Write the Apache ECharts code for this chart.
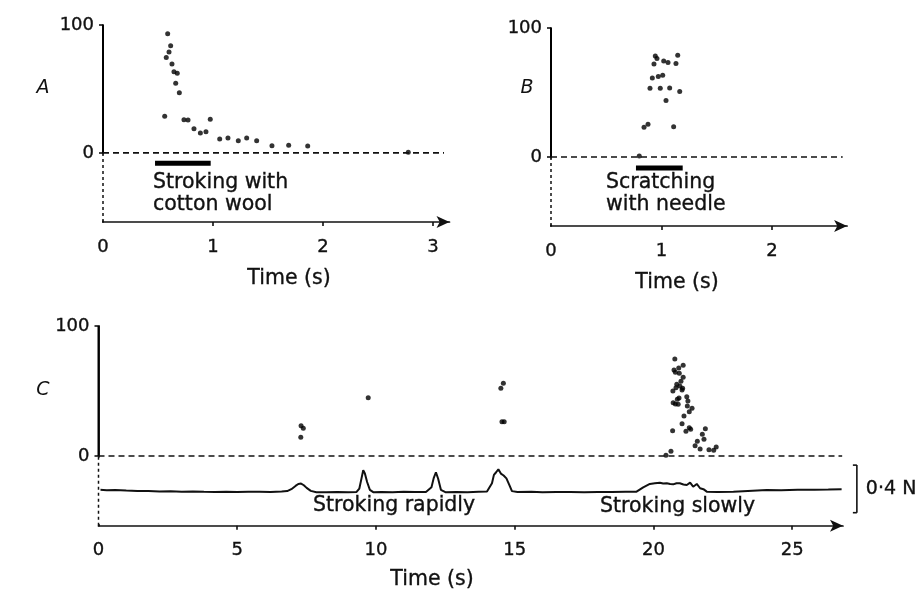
<!DOCTYPE html>
<html><head><meta charset="utf-8">
<script src="https://cdn.jsdelivr.net/npm/echarts@6/dist/echarts.min.js"></script>
<style>html,body{margin:0;padding:0;background:#fff}#c{width:918px;height:592px}</style>
</head><body><div id="c"></div>
<script>
// ---- Panel A: stroking with cotton wool (time s, impulses/s) ----
const aTime = [0.588,0.615,0.600,0.575,0.627,0.645,0.675,0.661,0.694,0.561,0.736,0.773,0.827,0.885,0.936,0.975,1.061,1.136,1.230,1.306,1.397,1.536,1.688,1.861,2.775];
const aRate = [93.2,83.8,78.9,74.5,69.5,63.5,62.3,54.4,47.1,28.7,26.0,25.8,18.8,15.6,16.6,26.3,10.9,11.7,9.6,11.7,9.6,5.7,6.0,5.5,0.5];
const aStim = [0.473, 0.979];
// ---- Panel B: scratching with needle ----
const bTime = [0.944,0.959,0.932,1.020,1.059,1.147,1.131,0.917,0.971,1.011,0.896,0.989,1.074,1.165,1.041,0.842,0.878,1.110,0.799];
const bRate = [78.3,76.3,72.2,74.5,73.2,78.9,72.5,61.3,62.4,63.4,53.4,53.4,53.6,50.8,43.9,23.2,25.5,23.4,0.8];
const bStim = [0.769, 1.192];
// ---- Panel C: stroking rapidly / slowly ----
const cTime = [7.30,7.38,7.29,9.72,14.59,14.50,14.54,14.62,
  20.77,20.74,20.91,21.07,20.79,20.93,21.07,20.99,20.84,20.95,20.81,21.05,20.70,21.03,20.92,21.20,20.86,20.71,20.79,20.89,21.24,21.39,21.22,21.29,21.10,21.03,20.69,21.29,21.34,21.17,21.87,21.76,21.82,21.58,21.50,21.68,22.00,22.17,22.26,20.63,20.45];
const cRate = [23.3,21.3,14.4,44.8,55.9,52.1,26.4,26.4,
  74.6,66.2,67.7,69.8,64.4,63.6,60.5,57.5,55.2,53.8,52.5,52.1,50.0,50.8,44.6,45.6,43.6,41.0,40.0,39.8,42.3,36.7,38.5,34.1,30.8,24.8,19.5,21.8,20.5,19.0,21.0,16.7,12.8,11.3,7.9,5.4,4.8,4.4,6.9,3.6,0.5];
// force trace (plotted in the rate-axis units below zero)
const forceTime = [0.05,0.3,0.6,1.0,1.4,1.8,2.2,2.6,3.0,3.4,3.8,4.2,4.6,5.0,5.4,5.8,6.2,6.6,6.8,6.95,7.1,7.2,7.3,7.4,7.5,7.65,7.85,8.2,8.6,9.0,9.3,9.4,9.48,9.54,9.6,9.68,9.78,9.9,10.2,10.6,11.0,11.4,11.8,12.0,12.08,12.16,12.24,12.34,12.5,12.9,13.3,13.7,14.0,14.18,14.25,14.33,14.41,14.5,14.6,14.7,14.8,14.9,15.1,15.6,16.0,16.5,17.0,17.5,18.0,18.5,19.0,19.39,19.63,19.87,20.05,20.23,20.35,20.48,20.6,20.71,20.83,20.95,21.08,21.2,21.32,21.43,21.56,21.68,21.8,21.92,22.3,22.88,23.4,24.08,24.6,25.2,25.8,26.3,26.78];
const forceVal = [-26.0,-26.3,-26.1,-26.6,-26.9,-27.0,-27.2,-27.1,-27.4,-27.3,-27.5,-27.6,-27.4,-27.7,-27.5,-27.4,-27.6,-27.3,-27.0,-25.5,-23.0,-21.5,-21.2,-22.5,-24.5,-26.8,-27.8,-27.9,-27.7,-27.9,-27.6,-25.0,-17.0,-11.0,-13.5,-20.0,-26.0,-27.8,-27.6,-27.8,-27.5,-27.7,-27.6,-24.0,-17.0,-12.5,-17.5,-26.0,-27.8,-27.6,-27.8,-27.5,-27.3,-21.0,-14.5,-12.5,-10.2,-13.5,-15.0,-17.2,-22.0,-27.0,-27.7,-27.5,-27.8,-27.6,-27.7,-27.9,-27.6,-27.7,-27.5,-27.4,-24.1,-21.5,-21.0,-20.5,-21.2,-21.0,-21.6,-21.8,-20.9,-21.0,-21.9,-22.3,-20.5,-23.6,-21.5,-24.8,-25.5,-27.4,-27.6,-27.4,-26.9,-26.2,-26.4,-26.0,-25.9,-25.8,-25.6];
// 0.4 N scale bar: x position and the two ends (in panel C units)
const scaleBarX = 27.33, scaleBarEnds = [-7, -43.6];
// axis ticks
const aTicks = [0,1,2,3], bTicks = [0,1,2], cTicks = [0,5,10,15,20,25], yTicks = [0,100];
const axMax = [3.15, 2.68, 26.83];
const yMin = [-54, -53.4, -53.6];
const zeroLineEnd = [3.1, 2.64, 26.8];

const INK = '#111';
const FONT = 'DejaVu Sans';
const zip = (xs, ys) => xs.map((x, i) => [x, ys[i]]);
const labelStyle = {color:INK, fontSize:18, fontFamily:FONT, textBorderColor:INK, textBorderWidth:0.35};

function xAxis(idx, max, ticks) {
  return {
    type:'value', gridIndex:idx, min:0, max:max,
    axisLine:{show:true, onZero:false, symbol:['none','arrow'], symbolSize:[9,13], lineStyle:{color:INK, width:1.7}},
    axisTick:{show:true, customValues:ticks.slice(1), length:4, lineStyle:{color:INK, width:1.6}},
    axisLabel:Object.assign({customValues:ticks, margin:16}, labelStyle),
    splitLine:{show:false}
  };
}
function yAxis(idx, min) {
  return {
    type:'value', gridIndex:idx, min:min, max:100,
    axisLine:{show:true, onZero:false, lineStyle:{color:INK, width:1.8}},
    axisTick:{show:true, customValues:yTicks, length:4, lineStyle:{color:INK, width:1.6}},
    axisLabel:Object.assign({customValues:yTicks, margin:9}, labelStyle),
    splitLine:{show:false}
  };
}
function dots(idx, data) {
  return {type:'scatter', xAxisIndex:idx, yAxisIndex:idx, data:data, symbol:'circle', symbolSize:5,
    itemStyle:{color:'#000'}, silent:true};
}
function stimBar(idx, ext, y) {
  return {type:'line', xAxisIndex:idx, yAxisIndex:idx, data:[[ext[0],y],[ext[1],y]], showSymbol:false,
    silent:true, lineStyle:{color:'#000', width:5, cap:'butt'}};
}
function txt(x, y, s, opt) {
  return {type:'text', x:x, y:y, z:100, style:Object.assign({text:s, fill:INK, font:'20.5px "DejaVu Sans"',
    stroke:INK, lineWidth:0.35, textAlign:'left', textVerticalAlign:'middle'}, opt||{})};
}

const chart = echarts.init(document.getElementById('c'), null, {renderer:'canvas'});
chart.setOption({
  backgroundColor:'#fff',
  animation:false,
  grid:[
    {left:103, top:25, width:346.5, height:197, containLabel:false, outerBoundsMode:'none'},
    {left:551, top:28, width:296.1, height:198, containLabel:false, outerBoundsMode:'none'},
    {left:98.5, top:326, width:744.5, height:199.7, containLabel:false, outerBoundsMode:'none'}
  ],
  xAxis:[xAxis(0, axMax[0], aTicks), xAxis(1, axMax[1], bTicks), xAxis(2, axMax[2], cTicks)],
  yAxis:[yAxis(0, yMin[0]), yAxis(1, yMin[1]), yAxis(2, yMin[2])],
  series:[
    dots(0, zip(aTime, aRate)),
    dots(1, zip(bTime, bRate)),
    dots(2, zip(cTime, cRate)),
    stimBar(0, aStim, -8),
    stimBar(1, bStim, -8.5),
    {type:'line', xAxisIndex:2, yAxisIndex:2, data:zip(forceTime, forceVal), showSymbol:false, silent:true,
     lineStyle:{color:INK, width:2}}
  ]
});

// axis decorations: the y axis is solid above 0 and dashed below; dashed zero line
const px = (g, p) => chart.convertToPixel({gridIndex:g}, p);
const seg = (a, b, w, dash) => ({type:'polyline', silent:true, z:100, zlevel:1,
  shape:{points:[[a[0], a[1]], [b[0], b[1]]]},
  style:{stroke:INK, lineWidth:w, lineDash:dash || null, fill:'none'}});
const gfx = [];
for (let g = 0; g < 3; g++) {
  const o = px(g, [0, 0]), top = px(g, [0, 100]), bot = px(g, [0, yMin[g]]);
  gfx.push({type:'rect', silent:true, z:100, zlevel:1,
    shape:{x:o[0] - 1, y:top[1], width:2, height:o[1] - top[1]}, style:{fill:'#000'}});
  // blank the solid axis line below zero, then redraw it dashed
  gfx.push({type:'rect', silent:true, z:99, zlevel:1,
    shape:{x:o[0] - 2, y:o[1] + 1.5, width:4, height:bot[1] - o[1] - 3}, style:{fill:'#fff'}});
  gfx.push(seg([bot[0], bot[1]], [o[0], o[1]], 1.5, [3,3]));
  gfx.push(seg(o, px(g,[zeroLineEnd[g],0]), 1.6, [6,4]));
}
const sTop = px(2, [scaleBarX, scaleBarEnds[0]]);
const sBot = px(2, [scaleBarX, scaleBarEnds[1]]);
gfx.push(seg([sTop[0]-4, sTop[1]], sTop, 1.6));
gfx.push(seg(sTop, sBot, 1.6));
gfx.push(seg([sBot[0]-4, sBot[1]], sBot, 1.6));
gfx.push(txt(sTop[0]+9, (sTop[1]+sBot[1])/2, '0·4 N', {font:'19px "DejaVu Sans"'}));
const panelLbl = {font:'italic 19px "DejaVu Sans"', textAlign:'center', lineWidth:0};
gfx.push(
  txt(43, 88, 'A', panelLbl),
  txt(527, 88, 'B', panelLbl),
  txt(43, 390, 'C', panelLbl),
  txt(153, 183, 'Stroking with'),
  txt(153, 205, 'cotton wool'),
  txt(606, 183, 'Scratching'),
  txt(606, 205, 'with needle'),
  txt(313, 506, 'Stroking rapidly'),
  txt(600, 507, 'Stroking slowly'),
  txt(289, 279, 'Time (s)', {textAlign:'center'}),
  txt(677, 283, 'Time (s)', {textAlign:'center'}),
  txt(432, 580, 'Time (s)', {textAlign:'center'})
);
chart.setOption({graphic:{elements:gfx}});
</script>
</body></html>
